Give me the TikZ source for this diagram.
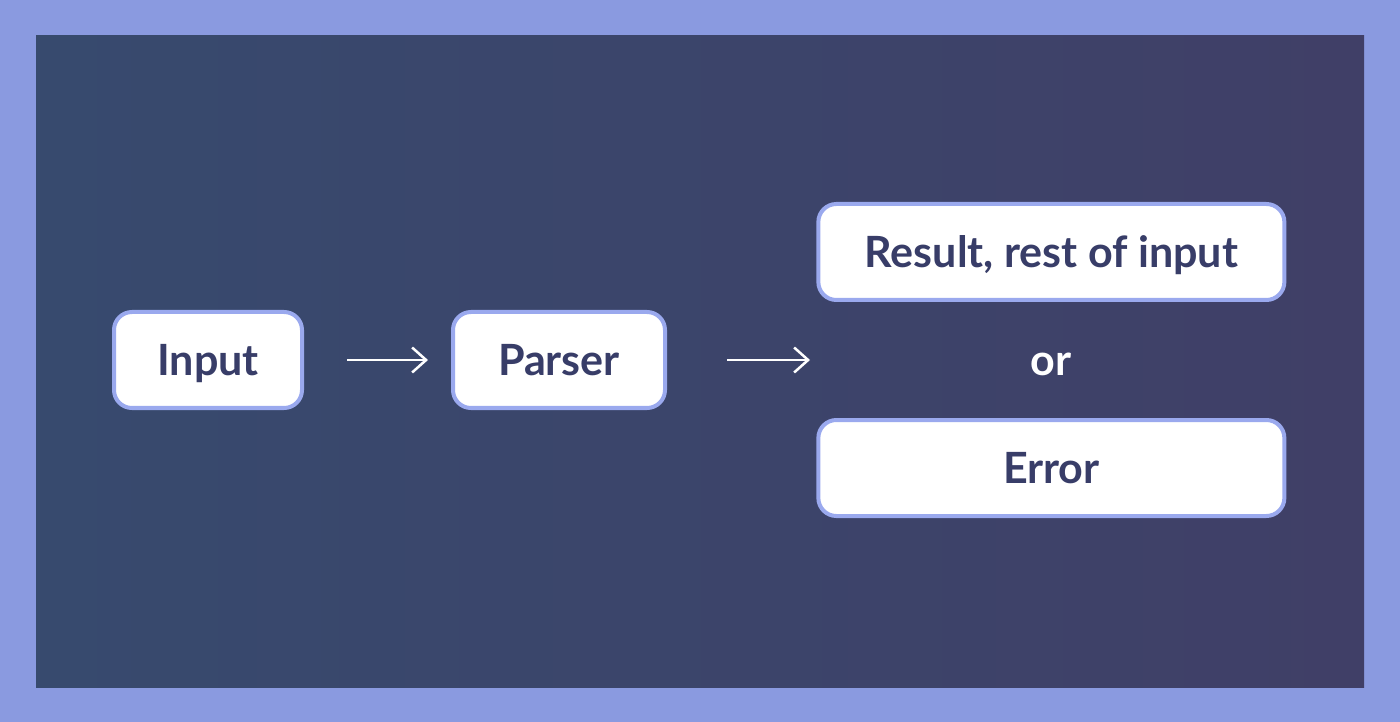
\documentclass[tikz,border=0pt]{standalone}
\usepackage{fontspec}
\setmainfont{Lato}
\usetikzlibrary{positioning}
\usetikzlibrary{arrows.meta}
\definecolor{outerbg}{HTML}{8A9AE0}
\definecolor{panelleft}{HTML}{374A6E}
\definecolor{panelright}{HTML}{403F67}
\definecolor{boxline}{HTML}{9AA9EE}
\definecolor{boxtext}{HTML}{383D68}
\tikzset{
  box/.style={draw=boxline, fill=white, line width=0.08cm, rounded corners=0.36cm,
    minimum height=1.92cm, text=boxtext, text height=17.6pt, text depth=0pt,
    font=\fontsize{24.5}{28}\selectfont\bfseries},
  arrowline/.style={draw=white, line width=0.05cm, -{Straight Barb[length=0.28cm, width=0.5cm]}}
}
\begin{document}
\begin{tikzpicture}
                \useasboundingbox (0,0) rectangle (28,-14.44);
                \fill[outerbg] (0,0) rectangle (28,-14.44);
                \shade[left color=panelleft, right color=panelright] (0.72,-0.72) rectangle (27.28,-13.74);
                \node[box, minimum width=3.76cm] (input) at (4.16,-7.2) {Input};
                \node[box, minimum width=4.24cm, right=2.94cm of input] (parser) {Parser};
                \node[minimum width=9.36cm, inner sep=0pt, text=white, text height=17.6pt, text depth=0pt,
                      font=\fontsize{24.5}{28}\selectfont\bfseries, right=3.0cm of parser] (orlabel) {or};
                \node[box, minimum width=9.32cm, above=1.16cm of orlabel.center] (result) {Result, rest of input};
                \node[box, minimum width=9.32cm, below=1.16cm of orlabel.center] (error) {Error};
                \coordinate[right=2.86cm of parser] (arrowend);
                \draw[arrowline, shorten <=0.86cm, shorten >=0.46cm] (input) -- (parser);
                \draw[arrowline, shorten <=1.2cm] (parser) -- (arrowend);
            \end{tikzpicture}
\end{document}
